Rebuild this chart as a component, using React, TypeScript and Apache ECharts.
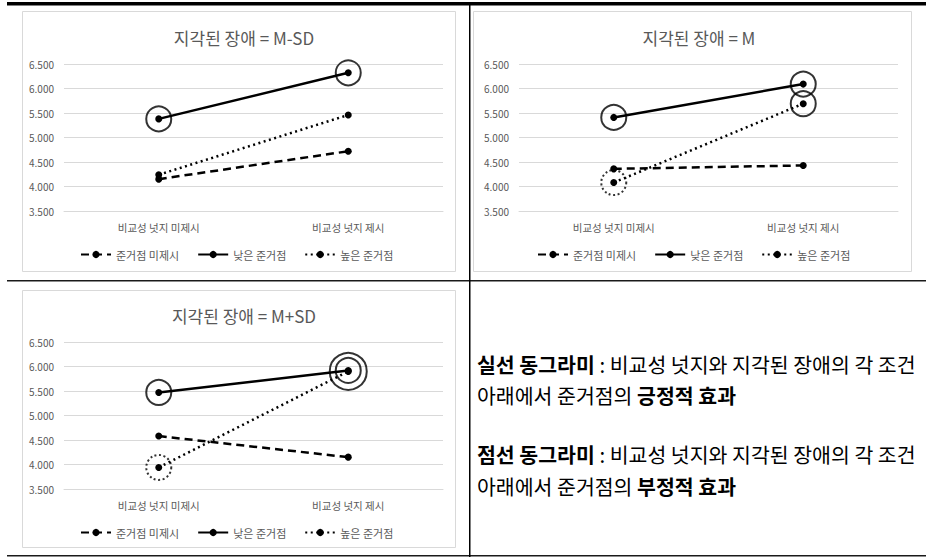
import React, { useEffect, useRef } from "react";
import * as echarts from "echarts";

// Interaction plots: perceived barrier level × comparative nudge × anchor type
const categories = ["비교성 넛지 미제시", "비교성 넛지 제시"];
const panelTitles = ["지각된 장애 = M-SD", "지각된 장애 = M", "지각된 장애 = M+SD"];
const seriesNames = ["준거점 미제시", "낮은 준거점", "높은 준거점"];

// Cell means per panel: [no nudge, nudge]
const noAnchor = [
  [4.15, 4.72],
  [4.36, 4.43],
  [4.58, 4.15],
];
const lowAnchor = [
  [5.38, 6.32],
  [5.41, 6.09],
  [5.47, 5.92],
];
const highAnchor = [
  [4.24, 5.46],
  [4.08, 5.69],
  [3.94, 5.9],
];

const yMin = 3.5;
const yMax = 6.5;
const yStep = 0.5;

// Highlighted cells: [series index (0 none, 1 low, 2 high), category index]
const positiveEffects = [
  [[1, 0], [1, 1]],
  [[1, 0], [1, 1], [2, 1]],
  [[1, 0], [1, 1], [2, 1]],
];
const negativeEffects = [[], [[2, 0]], [[2, 0]]];

const noteLines = [
  "{b|실선 동그라미} : 비교성 넛지와 지각된 장애의 각 조건",
  "아래에서 준거점의 {b|긍정적 효과}",
  "{b|점선 동그라미} : 비교성 넛지와 지각된 장애의 각 조건",
  "아래에서 준거점의 {b|부정적 효과}",
];

const FONT = "'Noto Sans CJK KR', 'Noto Sans', sans-serif";
const GREY_TEXT = "#595959";
const GRID_LINE = "#d9d9d9";

const layout = [
  { box: [22.5, 11.5, 433, 260], gridLeft: 64, gridTop: 64, titleX: 239, titleY: 23.5, legendLeft: 75, legendTop: 244 },
  { box: [473.5, 11.5, 438, 260], gridLeft: 519, gridTop: 64, titleX: 694, titleY: 23.5, legendLeft: 532, legendTop: 244 },
  { box: [22.5, 290.5, 433, 257], gridLeft: 64, gridTop: 342, titleX: 239, titleY: 301.5, legendLeft: 75, legendTop: 522 },
];
const noteY = [364, 395, 454, 486];

const lineStyles = [
  { type: [8, 5], width: 2.5 },
  { type: "solid", width: 2.5 },
  { type: [2, 3.5], width: 2.5 },
];

function buildOption() {
  const valueSets = [noAnchor, lowAnchor, highAnchor];
  const grids: any[] = [];
  const xAxes: any[] = [];
  const yAxes: any[] = [];
  const series: any[] = [];
  const titles: any[] = [];
  const legends: any[] = [];
  const graphics: any[] = [];

  layout.forEach((p, i) => {
    grids.push({ left: p.gridLeft, top: p.gridTop, width: 379, height: 147 });
    xAxes.push({
      type: "category",
      gridIndex: i,
      data: categories,
      boundaryGap: true,
      axisLine: { show: true, lineStyle: { color: GRID_LINE, width: 1 } },
      axisTick: { show: false },
      axisLabel: { color: GREY_TEXT, fontSize: 10.5, fontFamily: FONT, margin: 11 },
    });
    yAxes.push({
      type: "value",
      gridIndex: i,
      min: yMin,
      max: yMax,
      interval: yStep,
      axisLine: { show: false },
      axisTick: { show: false },
      splitLine: { lineStyle: { color: GRID_LINE, width: 1 } },
      axisLabel: {
        color: GREY_TEXT,
        fontSize: 10,
        fontFamily: FONT,
        margin: 10,
        formatter: (v: number) => v.toFixed(3),
      },
    });
    titles.push({
      text: panelTitles[i],
      left: p.titleX,
      top: p.titleY,
      textAlign: "center",
      textStyle: { color: GREY_TEXT, fontSize: 17, fontWeight: "normal", fontFamily: FONT },
    });
    legends.push({
      data: seriesNames,
      left: p.legendLeft,
      top: p.legendTop,
      itemWidth: 30,
      itemHeight: 9,
      itemGap: 18,
      textStyle: { color: GREY_TEXT, fontSize: 11, fontFamily: FONT },
    });

    valueSets.forEach((set, s) => {
      series.push({
        type: "line",
        name: seriesNames[s],
        xAxisIndex: i,
        yAxisIndex: i,
        data: set[i],
        symbol: "circle",
        symbolSize: 7,
        itemStyle: { color: "#000" },
        lineStyle: { color: "#000", ...lineStyles[s] },
        silent: true,
        z: 3,
      });
    });

    // Effect rings around the highlighted cell means
    const placed: { c: number; v: number; size: number }[] = [];
    const ringData = (marks: number[][]) =>
      marks.map(([s, c]) => {
        const v = valueSets[s][i][c];
        const near = placed.filter((q) => q.c === c && Math.abs(q.v - v) < 0.15);
        const size = near.length ? Math.max(...near.map((q) => q.size)) + 12 : 25;
        placed.push({ c, v, size });
        return { value: [c, v], symbolSize: size };
      });
    const pos = ringData(positiveEffects[i]);
    const neg = ringData(negativeEffects[i]);
    series.push({
      type: "scatter",
      name: "positive effect",
      xAxisIndex: i,
      yAxisIndex: i,
      data: pos,
      symbol: "circle",
      itemStyle: { color: "rgba(0,0,0,0)", borderColor: "#000", borderWidth: 2 },
      silent: true,
      z: 4,
    });
    series.push({
      type: "scatter",
      name: "negative effect",
      xAxisIndex: i,
      yAxisIndex: i,
      data: neg,
      symbol: "circle",
      itemStyle: {
        color: "rgba(0,0,0,0)",
        borderColor: "#000",
        borderWidth: 2,
        borderType: [2, 2.5],
      },
      silent: true,
      z: 4,
    });

    graphics.push({
      type: "rect",
      shape: { x: p.box[0], y: p.box[1], width: p.box[2], height: p.box[3] },
      style: { fill: "none", stroke: GRID_LINE, lineWidth: 1 },
      silent: true,
      z: -1,
    });
  });

  // Table rules
  graphics.push(
    { type: "rect", shape: { x: 7, y: 2, width: 919, height: 3.5 }, style: { fill: "#000" }, silent: true },
    { type: "line", shape: { x1: 7, y1: 280.75, x2: 926, y2: 280.75 }, style: { stroke: "#1a1a1a", lineWidth: 1.5 }, silent: true },
    { type: "line", shape: { x1: 7, y1: 555.75, x2: 926, y2: 555.75 }, style: { stroke: "#1a1a1a", lineWidth: 1.5 }, silent: true },
    { type: "line", shape: { x1: 469.75, y1: 5, x2: 469.75, y2: 557 }, style: { stroke: "#000", lineWidth: 1.5 }, silent: true }
  );

  noteLines.forEach((t, k) => {
    graphics.push({
      type: "text",
      x: 477,
      y: noteY[k],
      silent: true,
      style: {
        text: t,
        fill: "#000",
        fontSize: 20.5,
        fontFamily: FONT,
        verticalAlign: "middle",
        align: "left",
        rich: {
          b: { fontSize: 20.5, fontFamily: FONT, fontWeight: "bold", fill: "#000" },
        },
      },
    });
  });

  return {
    animation: false,
    backgroundColor: "#fff",
    title: titles,
    legend: legends,
    grid: grids,
    xAxis: xAxes,
    yAxis: yAxes,
    series,
    graphic: graphics,
  };
}

export default function App() {
  const ref = useRef<HTMLDivElement>(null);
  useEffect(() => {
    if (!ref.current) return;
    const chart = echarts.init(ref.current, undefined, { renderer: "svg" });
    chart.setOption(buildOption() as any);
    return () => chart.dispose();
  }, []);
  return (
    <div
      ref={ref}
      style={{ position: "fixed", left: 0, top: 0, width: 926, height: 557, background: "#fff" }}
    />
  );
}
